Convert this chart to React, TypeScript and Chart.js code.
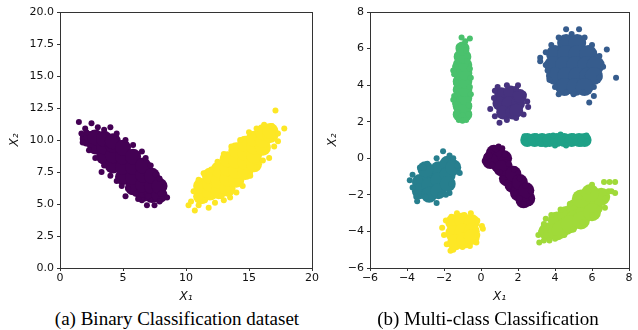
import React, { useEffect, useRef } from "react";
import { Chart, registerables } from "chart.js";

Chart.register(...registerables);

type P = [number, number];

// ---------- (a) Binary classification ----------
const binaryXTicks = [0, 5, 10, 15, 20];
const binaryYTicks = [0, 2.5, 5, 7.5, 10, 12.5, 15, 17.5, 20];

const binaryClass0Core: P[] = [
  [2.2, 10.1], [2.8, 9.5], [2.8, 10.2], [3.5, 8.7], [3.5, 9.5], [3.5, 10.1],
  [4.2, 8.0], [4.2, 8.8], [4.2, 9.6], [4.2, 9.9], [5.0, 7.1], [5.0, 7.9],
  [5.0, 8.7], [5.0, 9.4], [5.8, 6.3], [5.8, 7.1], [5.8, 7.9], [5.8, 8.7],
  [6.6, 5.8], [6.6, 6.5], [6.6, 7.3], [6.6, 8.0], [7.3, 5.7], [7.3, 6.4],
  [7.3, 7.2], [7.9, 5.7], [7.9, 6.4],
];
const binaryClass0Edge: P[] = [
  [1.5, 11.4], [2.0, 10.9], [2.5, 11.3], [3.0, 11.0], [3.5, 10.8], [4.0, 11.0],
  [4.5, 10.5], [5.2, 10.0], [5.8, 9.6], [6.5, 9.1], [6.8, 8.6], [7.2, 8.0],
  [7.6, 7.3], [7.9, 7.0], [8.2, 6.3], [8.5, 5.5], [7.9, 5.2], [7.5, 4.9],
  [6.9, 4.9], [6.5, 5.3], [6.2, 5.4], [5.2, 5.6], [5.4, 6.2], [4.9, 6.4],
  [4.5, 6.8], [4.0, 7.2], [3.3, 7.5], [3.5, 8.0], [2.8, 8.6], [2.3, 9.2],
  [1.8, 9.8], [1.7, 10.5], [2.1, 10.6], [6.0, 5.8], [7.0, 5.6], [8.0, 5.8],
];
const binaryClass1Core: P[] = [
  [11.2, 5.6], [11.2, 6.4], [11.9, 5.9], [11.9, 6.6], [11.9, 7.2],
  [12.6, 6.0], [12.6, 6.8], [12.6, 7.7], [13.3, 6.2], [13.3, 7.0], [13.3, 7.8],
  [13.3, 8.5], [14.0, 6.9], [14.0, 7.6], [14.0, 8.4], [14.0, 9.2],
  [14.7, 7.5], [14.7, 8.3], [14.7, 9.0], [14.7, 9.7], [15.4, 8.1], [15.4, 8.8],
  [15.4, 9.5], [15.4, 10.1], [16.1, 9.4], [16.1, 10.0], [16.1, 10.6],
  [16.7, 10.4], [16.7, 10.7],
];
const binaryClass1Edge: P[] = [
  [17.1, 12.3], [17.8, 10.9], [17.3, 10.5], [16.8, 11.1], [16.2, 11.2],
  [15.6, 10.9], [15.0, 10.6], [14.3, 10.0], [13.6, 9.5], [13.0, 8.9],
  [12.5, 8.3], [12.0, 7.7], [11.4, 7.4], [11.0, 6.9], [10.6, 6.0],
  [10.2, 4.9], [10.4, 5.2], [10.7, 4.5], [11.0, 4.9], [11.8, 4.7], [12.3, 5.1],
  [13.0, 5.3], [13.5, 5.5], [14.0, 5.9], [14.5, 6.4], [15.1, 7.2], [15.6, 7.9],
  [16.1, 8.4], [16.6, 8.6], [17.0, 9.5], [17.3, 9.9], [11.5, 5.3], [12.8, 5.6],
];

// ---------- (b) Multi-class classification ----------
const multiXTicks = [-6, -4, -2, 0, 2, 4, 6, 8];
const multiYTicks = [-6, -4, -2, 0, 2, 4, 6, 8];

const class0Core: P[] = [
  [0.55, 0.0], [0.95, 0.2], [0.95, -0.35], [1.25, 0.0], [1.3, -0.5],
  [1.55, -0.85], [1.85, -1.2], [2.0, -1.6], [2.3, -1.9], [2.5, -2.2],
  [0.7, 0.3], [0.5, -0.15], [1.1, -0.55], [1.4, -1.1], [1.7, -1.45],
  [2.0, -1.9], [2.3, -2.3], [1.75, -0.85], [2.1, -1.3], [2.45, -1.75],
];
const class0Edge: P[] = [
  [0.2, -0.15], [0.3, 0.1], [0.55, 0.35], [0.8, 0.5], [0.95, 0.65], [1.15, 0.55],
  [1.3, 0.2], [1.5, -0.3], [1.8, -0.6], [2.1, -1.1], [2.4, -1.5], [2.7, -1.8],
  [2.75, -2.2], [2.6, -2.45], [2.3, -2.5], [2.1, -2.2], [1.8, -1.9], [1.5, -1.5],
  [1.2, -1.1], [1.0, -0.75], [0.6, -0.35], [0.45, 0.15],
];
const class1Core: P[] = [
  [1.1, 3.5], [1.6, 3.6], [1.0, 3.0], [1.5, 3.0], [2.0, 3.0], [1.2, 2.5],
  [1.7, 2.5], [2.1, 3.4], [1.9, 2.6],
];
const class1Edge: P[] = [
  [0.9, 3.9], [1.4, 4.0], [1.9, 3.8], [2.3, 3.5], [2.5, 3.1], [2.55, 2.8],
  [2.3, 2.4], [1.9, 2.2], [1.4, 2.1], [1.0, 1.95], [0.75, 2.3], [0.5, 2.7],
  [0.7, 3.3], [0.75, 3.7], [2.0, 4.0],
];
const class2Core: P[] = [
  [4.6, 6.3], [5.2, 6.3], [4.0, 5.7], [4.6, 5.7], [5.2, 5.7], [5.8, 5.7],
  [3.9, 5.1], [4.5, 5.1], [5.1, 5.1], [5.7, 5.1], [6.2, 5.1], [4.0, 4.5],
  [4.6, 4.5], [5.2, 4.5], [5.8, 4.5], [6.1, 4.5], [4.5, 3.9], [5.1, 3.9],
  [5.6, 3.9],
];
const class2Edge: P[] = [
  [4.6, 7.05], [5.3, 7.05], [4.2, 6.6], [4.9, 6.8], [5.6, 6.6], [6.0, 6.2],
  [6.8, 5.95], [6.4, 5.6], [6.6, 5.0], [7.3, 4.4], [6.4, 4.4], [6.1, 3.9],
  [6.1, 3.4], [5.85, 3.05], [5.5, 3.6], [5.0, 3.5], [4.6, 3.6], [4.2, 3.5],
  [4.0, 3.9], [3.7, 4.3], [3.6, 4.8], [3.2, 5.3], [3.2, 5.5], [3.5, 5.8],
  [3.8, 6.2], [3.5, 5.1],
];
const class3Core: P[] = [
  [-3.3, -1.3], [-3.3, -1.8], [-2.8, -0.9], [-2.8, -1.5], [-2.8, -2.0],
  [-2.3, -0.6], [-2.3, -1.2], [-2.3, -1.8], [-1.8, -0.3], [-1.8, -0.9],
  [-1.8, -1.4], [-1.5, -0.5], [-3.0, -0.6],
];
const class3Edge: P[] = [
  [-2.05, 0.38], [-1.7, 0.15], [-2.4, 0.0], [-2.9, -0.3], [-3.3, -0.5],
  [-3.7, -0.9], [-3.85, -1.2], [-3.7, -1.6], [-3.5, -2.1], [-3.45, -2.35],
  [-3.0, -2.1], [-2.4, -2.45], [-2.2, -2.0], [-1.7, -1.9], [-1.6, -1.4],
  [-1.15, -0.8], [-1.3, -0.4], [-1.5, 0.0], [-1.9, -2.0], [-3.1, -0.5],
];
const class4Core: P[] = [
  [2.5, 1.0], [2.9, 1.0], [3.3, 1.0], [3.7, 1.0], [4.1, 1.0], [4.5, 1.0],
  [4.9, 1.0], [5.3, 1.0], [5.6, 1.0],
];
const class4Edge: P[] = [
  [2.35, 1.2], [2.4, 0.85], [3.0, 1.2], [3.5, 0.75], [3.9, 1.25], [4.3, 1.3],
  [4.6, 0.7], [5.0, 1.2], [5.4, 0.8], [5.7, 1.25], [5.75, 0.9], [3.2, 0.8],
  [4.0, 0.7],
];
const class5Core: P[] = [
  [-1.15, 2.4], [-0.85, 2.4], [-1.15, 2.85], [-0.85, 2.85], [-1.15, 3.3],
  [-0.85, 3.3], [-1.15, 3.75], [-0.85, 3.75], [-1.15, 4.2], [-0.85, 4.2],
  [-1.15, 4.65], [-0.85, 4.65], [-1.15, 5.1], [-0.85, 5.1], [-1.1, 5.55],
  [-0.9, 5.55], [-1.0, 6.0],
];
const class5Edge: P[] = [
  [-1.05, 6.6], [-0.6, 6.55], [-0.85, 6.4], [-1.2, 6.1], [-0.8, 5.9],
  [-1.3, 5.6], [-0.75, 5.3], [-1.4, 5.0], [-0.6, 4.9], [-1.45, 4.6],
  [-0.55, 4.4], [-1.35, 4.1], [-0.6, 3.9], [-1.45, 3.4], [-0.55, 3.5],
  [-1.4, 3.0], [-0.65, 2.9], [-1.3, 2.5], [-0.7, 2.4], [-1.2, 2.1],
  [-0.8, 2.1], [-1.0, 2.05], [-1.5, 3.2], [-1.5, 4.8],
];
const class6Core: P[] = [
  [3.6, -4.0], [4.1, -3.4], [4.1, -4.0], [4.6, -3.1], [4.6, -3.7], [5.1, -2.7],
  [5.1, -3.3], [5.6, -2.4], [5.6, -3.0], [6.1, -2.1], [6.1, -2.6], [6.5, -2.1],
  [4.3, -3.9], [4.8, -3.6], [5.4, -3.4], [6.0, -2.95], [5.4, -2.2], [5.9, -1.9],
];
const class6Edge: P[] = [
  [3.1, -4.2], [3.15, -4.6], [3.4, -4.5], [3.7, -4.5], [4.0, -4.4], [4.5, -4.2],
  [5.0, -3.9], [5.5, -3.5], [6.0, -3.1], [6.4, -2.8], [6.7, -2.7], [6.7, -2.2],
  [6.9, -1.8], [7.05, -1.8], [7.25, -1.9], [7.25, -1.3], [6.95, -1.3],
  [6.65, -1.3], [6.0, -1.45], [5.8, -1.8], [5.3, -2.1], [4.8, -2.5], [4.3, -2.8],
  [3.8, -3.1], [3.4, -3.6], [3.25, -4.0], [3.5, -3.3],
];
const class7Core: P[] = [
  [-1.5, -3.5], [-1.0, -3.4], [-0.5, -3.5], [-1.5, -4.1], [-1.0, -4.0],
  [-0.5, -4.0], [-1.4, -4.6], [-0.9, -4.5], [-0.5, -4.3],
];
const class7Edge: P[] = [
  [-1.3, -3.0], [-0.9, -3.1], [-0.55, -3.0], [-0.2, -3.4], [0.05, -3.7],
  [0.1, -3.85], [-0.2, -4.2], [-0.25, -4.6], [-0.6, -4.8], [-1.0, -4.85],
  [-1.5, -5.0], [-1.65, -5.05], [-1.85, -4.7], [-2.0, -4.2], [-2.1, -3.8],
  [-1.9, -3.4], [-1.6, -3.2],
];

const binaryColors = ["#440154", "#fde725"];
const multiColors = [
  "#440154", "#46327e", "#365c8d", "#277f8e",
  "#1fa187", "#4ac16d", "#a0da39", "#fde725",
];

const TICK_FONT = { family: "'DejaVu Sans'", size: 11 };
const TITLE_FONT = { family: "'DejaVu Sans'", size: 12, style: "italic" as const };
const TEXT = "#111";

const toXY = (a: P[]) => a.map(([x, y]) => ({ x, y }));

const framePlugin = {
  id: "frame",
  afterDraw(chart: any) {
    const { ctx, chartArea: a } = chart;
    ctx.save();
    ctx.strokeStyle = "#333";
    ctx.lineWidth = 1;
    ctx.strokeRect(
      Math.round(a.left) + 0.5,
      Math.round(a.top) + 0.5,
      Math.round(a.right - a.left),
      Math.round(a.bottom - a.top)
    );
    ctx.restore();
  },
};

function fmtMinus(v: number) {
  return String(v).replace("-", "\u2212");
}

function makeConfig(
  datasets: any[],
  xr: [number, number],
  yr: [number, number],
  xTicks: number[],
  yTicks: number[],
  xFmt: (v: number) => string,
  yFmt: (v: number) => string,
  yWidth: number,
  padLeft: number
) {
  return {
    type: "scatter" as const,
    data: { datasets },
    plugins: [framePlugin],
    options: {
      animation: false,
      responsive: false,
      maintainAspectRatio: false,
      events: [],
      layout: { padding: { left: padLeft, right: 4, top: 12, bottom: 4 } },
      plugins: { legend: { display: false }, tooltip: { enabled: false } },
      scales: {
        x: {
          type: "linear",
          min: xr[0],
          max: xr[1],
          afterBuildTicks: (s: any) => {
            s.ticks = xTicks.map((v) => ({ value: v }));
          },
          ticks: {
            callback: (v: any) => xFmt(Number(v)),
            font: TICK_FONT,
            color: TEXT,
            padding: 1,
            maxRotation: 0,
            autoSkip: false,
          },
          grid: { drawOnChartArea: false, tickLength: 3, color: "#333" },
          border: { display: false },
          title: {
            display: true,
            text: "X\u2081",
            font: TITLE_FONT,
            color: TEXT,
            padding: { top: 0, bottom: 0 },
          },
          afterFit: (s: any) => {
            s.height = 36;
            s.paddingLeft = 0;
            s.paddingRight = 0;
          },
        },
        y: {
          type: "linear",
          min: yr[0],
          max: yr[1],
          afterBuildTicks: (s: any) => {
            s.ticks = yTicks.map((v) => ({ value: v }));
          },
          ticks: {
            callback: (v: any) => yFmt(Number(v)),
            font: TICK_FONT,
            color: TEXT,
            padding: 3,
            autoSkip: false,
          },
          grid: { drawOnChartArea: false, tickLength: 3, color: "#333" },
          border: { display: false },
          title: {
            display: true,
            text: "X\u2082",
            font: TITLE_FONT,
            color: TEXT,
            padding: { top: 0, bottom: 0 },
          },
          afterFit: (s: any) => {
            s.width = yWidth;
            s.paddingTop = 0;
            s.paddingBottom = 0;
          },
        },
      },
    },
  };
}

function ds(points: P[], color: string, radius: number) {
  return {
    data: toXY(points),
    backgroundColor: color,
    borderWidth: 0,
    pointRadius: radius,
    pointHoverRadius: radius,
    pointBorderWidth: 0,
  };
}

function ChartCanvas({ config, left }: { config: any; left: number }) {
  const ref = useRef<HTMLCanvasElement | null>(null);
  useEffect(() => {
    if (!ref.current) return;
    const c = new Chart(ref.current, config);
    return () => c.destroy();
  }, [config]);
  return (
    <canvas
      ref={ref}
      width={320}
      height={308}
      style={{ position: "absolute", left, top: 0, width: 320, height: 308 }}
    />
  );
}

const binaryConfig = makeConfig(
  [
    ds(binaryClass0Edge, binaryColors[0], 3),
    ds(binaryClass0Core, binaryColors[0], 8),
    ds(binaryClass1Edge, binaryColors[1], 3),
    ds(binaryClass1Core, binaryColors[1], 8),
  ],
  [0, 20],
  [0, 20],
  binaryXTicks,
  binaryYTicks,
  (v) => String(v),
  (v) => v.toFixed(1),
  52,
  8
);

const multiCore = [class0Core, class1Core, class2Core, class3Core, class4Core, class5Core, class6Core, class7Core];
const multiEdge = [class0Edge, class1Edge, class2Edge, class3Edge, class4Edge, class5Edge, class6Edge, class7Edge];
const multiCoreRadius = [8, 7, 9, 8, 7, 7, 9, 8];

const multiDatasets: any[] = [];
multiCore.forEach((core, i) => {
  multiDatasets.push(ds(multiEdge[i], multiColors[i], 3));
  multiDatasets.push(ds(core, multiColors[i], multiCoreRadius[i]));
});

const multiConfig = makeConfig(
  multiDatasets,
  [-6, 8],
  [-6, 8],
  multiXTicks,
  multiYTicks,
  fmtMinus,
  fmtMinus,
  44,
  8
);

const captionStyle: React.CSSProperties = {
  position: "absolute",
  top: 309,
  fontFamily: "'Liberation Serif', 'Times New Roman', serif",
  fontSize: 19,
  lineHeight: "19px",
  color: "#000",
  textAlign: "center",
  whiteSpace: "nowrap",
};

export default function App() {
  return (
    <div
      style={{
        position: "absolute",
        left: 0,
        top: 0,
        width: 638,
        height: 330,
        background: "#fff",
        overflow: "hidden",
      }}
    >
      <ChartCanvas config={binaryConfig} left={0} />
      <ChartCanvas config={multiConfig} left={318} />
      <div style={{ ...captionStyle, left: 0, width: 354 }}>
        (a) Binary Classification dataset
      </div>
      <div style={{ ...captionStyle, left: 318, width: 340 }}>
        (b) Multi-class Classification
      </div>
    </div>
  );
}
